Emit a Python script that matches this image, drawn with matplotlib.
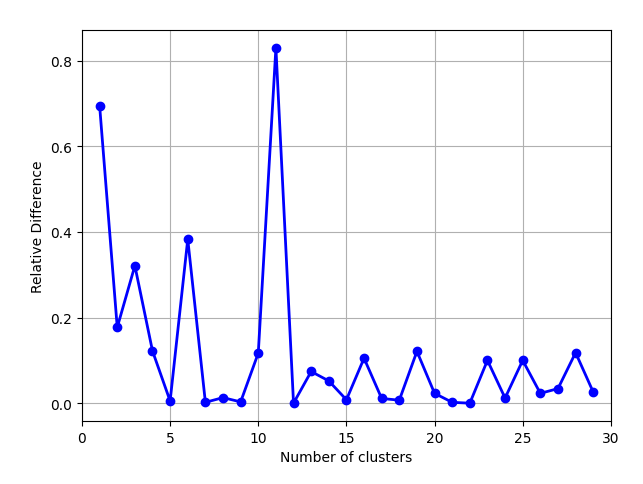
import numpy as np
from matplotlib import pyplot as plt

clusters = np.arange(1, 30)
rel_diff = [0.695, 0.177, 0.321, 0.122, 0.005, 0.383, 0.002, 0.013, 0.003, 0.117,
            0.830, 0.000, 0.074, 0.052, 0.008, 0.105, 0.011, 0.007, 0.121, 0.023,
            0.002, 0.000, 0.100, 0.012, 0.100, 0.023, 0.034, 0.118, 0.026]

fig = plt.figure(figsize=(6.43, 4.85), dpi=100)
plt.plot(clusters, rel_diff, 'bo-', linewidth=2, markersize=6)
plt.xlabel('Number of clusters')
plt.ylabel('Relative Difference')
plt.xlim(0, 30)
plt.grid(True)
plt.subplots_adjust(left=0.1275, right=0.950, top=0.936, bottom=0.130)
plt.savefig('out.png')
